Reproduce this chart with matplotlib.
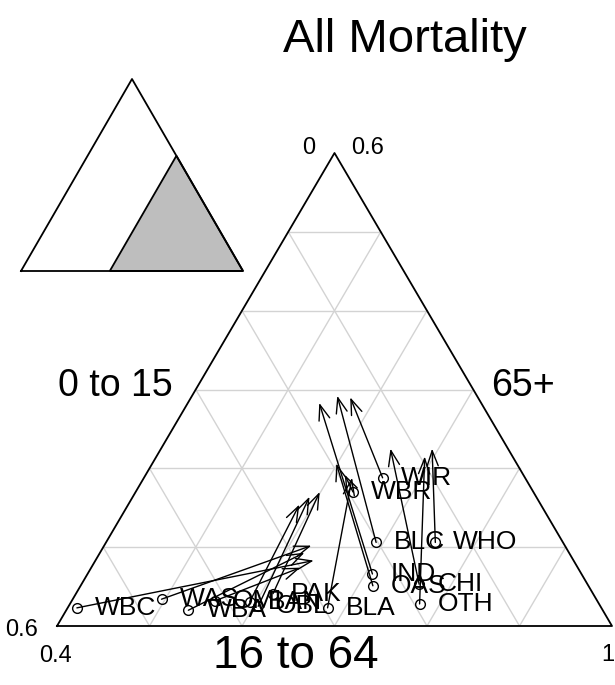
import numpy as np
import matplotlib.pyplot as plt

plt.rcParams['font.family'] = ['Liberation Sans', 'DejaVu Sans']

# groups and their shares (0 to 15, 65+); 16 to 64 is the rest
groups = ['WBC', 'WAS', 'WBA', 'OMI', 'BAN', 'PAK', 'OBL', 'BLA',
          'IND', 'OAS', 'BLC', 'WHO', 'WIR', 'WBR', 'CHI', 'OTH']
young_start = [0.567, 0.470, 0.448, 0.413, 0.376, 0.346, 0.370, 0.296,
               0.226, 0.233, 0.202, 0.138, 0.154, 0.195, 0.182, 0.194]
old_start = [0.023, 0.034, 0.020, 0.032, 0.031, 0.041, 0.025, 0.023,
             0.066, 0.051, 0.106, 0.106, 0.188, 0.170, 0.053, 0.028]
young_end = [0.281, 0.274, 0.286, 0.300, 0.261, 0.231, 0.245, 0.187,
             0.175, 0.195, 0.151, 0.082, 0.138, 0.193, 0.127, 0.095]
old_end = [0.083, 0.102, 0.093, 0.074, 0.154, 0.170, 0.164, 0.188,
           0.283, 0.206, 0.292, 0.225, 0.290, 0.192, 0.225, 0.215]

grid_steps = [0.1, 0.2, 0.3, 0.4, 0.5]
h = np.sqrt(3) / 2


def tern(a, c, span=0.6):
    # a = 0 to 15 share, c = 65+ share, zoomed triangle of side `span`
    wt = np.asarray(c) / span
    wl = np.asarray(a) / span
    wr = 1 - wl - wt
    return wr + 0.5 * wt, wt * h


fig = plt.figure(figsize=(6.15, 6.85), dpi=100)

# main triangle
ax = fig.add_axes([57 / 615, 59 / 685, 555 / 615, 473 / 685])
ax.set_xlim(0, 1)
ax.set_ylim(0, h)
ax.axis('off')

for g in grid_steps:
    # lines of constant 65+
    x, y = tern([0.6 - g, 0], [g, g])
    ax.plot(x, y, color='#d3d3d3', lw=1, zorder=1)
    # lines of constant 0 to 15
    x, y = tern([g, g], [0, 0.6 - g])
    ax.plot(x, y, color='#d3d3d3', lw=1, zorder=1)
    # lines of constant 16 to 64
    x, y = tern([g, 0], [0, g])
    ax.plot(x, y, color='#d3d3d3', lw=1, zorder=1)

ax.plot([0, 1, 0.5, 0], [0, 0, h, 0], color='black', lw=1.3, zorder=2,
        clip_on=False)

xs, ys = tern(young_start, old_start)
xe, ye = tern(young_end, old_end)
for i, name in enumerate(groups):
    ax.annotate('', xy=(xe[i], ye[i]), xytext=(xs[i], ys[i]),
                arrowprops=dict(arrowstyle='->,head_length=0.55,head_width=0.2',
                                mutation_scale=20, lw=1, color='black',
                                shrinkA=0, shrinkB=0), zorder=3)
ax.plot(xs, ys, 'o', mfc='none', mec='black', ms=7, mew=1, zorder=4,
        clip_on=False)
for i, name in enumerate(groups):
    ax.annotate(name, (xs[i], ys[i]), xytext=(13, 0),
                textcoords='offset points', va='center', ha='left',
                fontsize=19, zorder=5, annotation_clip=False)

# corner tick labels
fig.text(38 / 615, 1 - 630 / 685, '0.6', fontsize=17, ha='right', va='center')
fig.text(55 / 615, 1 - 656 / 685, '0.4', fontsize=17, ha='center', va='center')
fig.text(614 / 615, 1 - 655 / 685, '1', fontsize=17, ha='right', va='center')
fig.text(351 / 615, 1 - 148 / 685, '0.6', fontsize=17, ha='left', va='center')
fig.text(315 / 615, 1 - 148 / 685, '0', fontsize=17, ha='right', va='center')

# axis names
fig.text(173 / 615, 1 - 386 / 685, '0 to 15', fontsize=27, ha='right',
         va='center')
fig.text(491 / 615, 1 - 386 / 685, '65+', fontsize=27, ha='left', va='center')
fig.text(296 / 615, 1 - 656 / 685, '16 to 64', fontsize=33, ha='center',
         va='center')
fig.text(405 / 615, 1 - 52 / 685, 'All Mortality', fontsize=34,
         ha='center', va='baseline')

# inset showing the zoomed region
ins = fig.add_axes([21 / 615, (685 - 271) / 685, 222 / 615, 192 / 685])
ins.set_xlim(0, 1)
ins.set_ylim(0, h)
ins.axis('off')
ins.plot([0, 1, 0.5, 0], [0, 0, h, 0], color='black', lw=1.3, clip_on=False)
ins.fill([0.4, 1, 0.7], [0, 0, 0.6 * h], facecolor='#bebebe',
         edgecolor='black', lw=1.3, clip_on=False)

fig.savefig('out.png', dpi=100)
